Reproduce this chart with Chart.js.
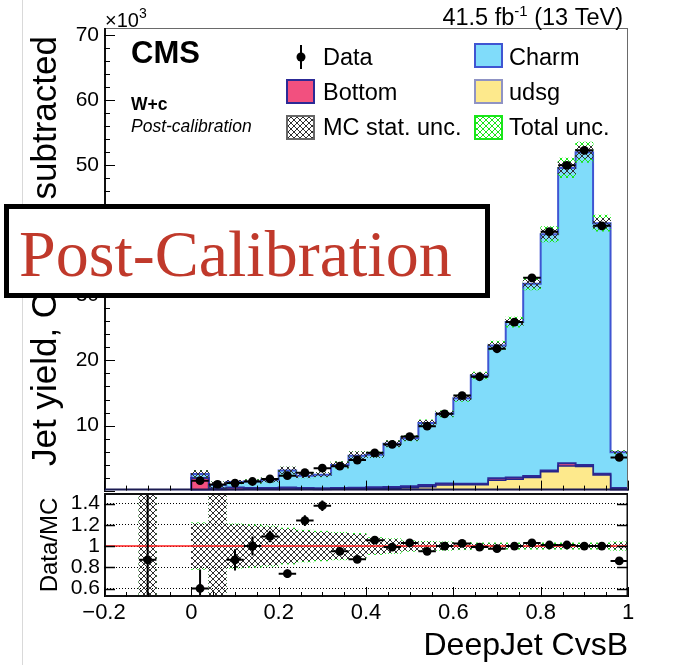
<!DOCTYPE html>
<html>
<head>
<meta charset="utf-8">
<title>W+c DeepJet CvsB, post-calibration</title>
<script src="https://cdn.jsdelivr.net/npm/chart.js@4.4.1/dist/chart.umd.min.js"></script>
<style>
  html, body { margin: 0; padding: 0; background: #fff; }
  #wrap { position: relative; width: 684px; height: 665px; overflow: hidden; background: #fff; }
  #edge { position: absolute; left: 22px; top: 0; width: 1px; height: 665px; background: #d9d9d9; }
  #cTop { position: absolute; left: 0; top: 0; }
  #cRatio { position: absolute; left: 0; top: 480px; }
</style>
</head>
<body>
<div id="wrap">
  <div id="edge"></div>
  <canvas id="cTop" width="684" height="495"></canvas>
  <canvas id="cRatio" width="684" height="185"></canvas>
</div>
<script>
// ---- binning (DeepJet CvsB) ----
const binEdges = [0.00, 0.04, 0.08, 0.12, 0.16, 0.20, 0.24, 0.28, 0.32, 0.36, 0.40, 0.44, 0.48,
                  0.52, 0.56, 0.60, 0.64, 0.68, 0.72, 0.76, 0.80, 0.84, 0.88, 0.92, 0.96, 1.00];
const binCenters = [0.02, 0.06, 0.10, 0.14, 0.18, 0.22, 0.26, 0.30, 0.34, 0.38, 0.42, 0.46, 0.50,
                    0.54, 0.58, 0.62, 0.66, 0.70, 0.74, 0.78, 0.82, 0.86, 0.90, 0.94, 0.98];
const binHalfWidth = 0.02;

// ---- yields, in units of 10^3 jets ----
const dataYield = [1.53, 0.95, 1.15, 1.40, 1.80, 2.30, 2.75, 3.45, 3.75, 4.70, 5.80, 7.10, 8.30,
                   9.90, 11.8, 14.6, 17.5, 21.8, 25.9, 32.7, 39.8, 50.0, 52.3, 40.7, 5.10];
const dataErr   = [0.45, 0.25, 0.13, 0.13, 0.10, 0.12, 0.12, 0.12, 0.13, 0.14, 0.15, 0.17, 0.18,
                   0.20, 0.22, 0.25, 0.27, 0.30, 0.32, 0.35, 0.40, 0.45, 0.47, 0.42, 0.18];
const charm     = [0.60, 0.47, 0.85, 1.00, 1.25, 2.63, 1.90, 2.10, 3.55, 4.92, 5.00, 6.65, 7.40,
                   9.55, 10.7, 13.15, 16.65, 20.4, 23.9, 29.55, 36.3, 45.4, 48.05, 38.5, 5.50];
const bottom    = [1.90, 0.30, 0.35, 0.25, 0.22, 0.22, 0.20, 0.20, 0.20, 0.20, 0.20, 0.20, 0.20,
                   0.25, 0.25, 0.15, 0.15, 0.30, 0.25, 0.25, 0.20, 0.40, 0.25, 0.20, 0.30];
const udsg      = [0.05, 0.08, 0.12, 0.15, 0.18, 0.25, 0.20, 0.15, 0.20, 0.25, 0.30, 0.35, 0.45,
                   0.60, 0.85, 0.90, 0.90, 1.60, 1.75, 2.00, 2.90, 3.80, 3.70, 2.40, 0.10];
// relative uncertainties on the simulation
const totUnc  = [0.22, 0.60, 0.21, 0.20, 0.19, 0.17, 0.15, 0.14, 0.13, 0.12, 0.08, 0.07, 0.05,
                 0.045, 0.04, 0.035, 0.03, 0.03, 0.03, 0.03, 0.03, 0.03, 0.03, 0.03, 0.04];
const statUnc = [0.21, 0.60, 0.20, 0.19, 0.18, 0.16, 0.14, 0.13, 0.12, 0.11, 0.072, 0.062, 0.042,
                 0.037, 0.032, 0.027, 0.02, 0.02, 0.018, 0.018, 0.018, 0.018, 0.018, 0.018, 0.028];

// ---- Data/MC ratio (first entry: underflow bin at -0.1) ----
const ratioX    = [-0.10, 0.02, 0.06, 0.10, 0.14, 0.18, 0.22, 0.26, 0.30, 0.34, 0.38, 0.42, 0.46,
                   0.50, 0.54, 0.58, 0.62, 0.66, 0.70, 0.74, 0.78, 0.82, 0.86, 0.90, 0.94, 0.98];
const ratioVal  = [0.87, 0.60, null, 0.87, 1.00, 1.09, 0.74, 1.24, 1.38, 0.95, 0.875, 1.055, 0.99,
                   1.03, 0.95, 1.00, 1.025, 0.99, 0.975, 1.00, 1.03, 1.01, 1.01, 1.00, 1.00, 0.86];
const ratioErr  = [0.80, 0.18, null, 0.10, 0.09, 0.055, 0.04, 0.05, 0.05, 0.035, 0.03, 0.03, 0.025,
                   0.022, 0.02, 0.02, 0.018, 0.016, 0.015, 0.014, 0.013, 0.012, 0.01, 0.01, 0.01, 0.03];
const ratioTot  = [0.60, ...totUnc];
const ratioStat = [0.60, ...statUnc];

// ---- axis ticks ----
const yieldTicks = [10, 20, 30, 40, 50, 60, 70];
const ratioTicks = [0.6, 0.8, 1, 1.2, 1.4];
const xTicks = [-0.2, 0, 0.2, 0.4, 0.6, 0.8, 1.0];

const SANS = "'Liberation Sans', Arial, Helvetica, sans-serif";
const SERIF = "'Liberation Serif', 'Times New Roman', serif";
const COL = {
  charm: '#80dcfa', charmLine: '#3f55d2',
  bottom: '#f2507f', bottomLine: '#2c2a96',
  udsg: '#fde98c', udsgLine: '#24248a',
  stat: '#303030', total: '#19e619'
};

const mcTotal = binCenters.map((_, i) => charm[i] + bottom[i] + udsg[i]);
const cumUdsg = udsg.slice();
const cumBottom = udsg.map((v, i) => v + bottom[i]);

function stepPoints(values) {
  const pts = [{ x: binEdges[0], y: 0 }];
  values.forEach((v, i) => pts.push({ x: binEdges[i], y: v }));
  pts.push({ x: binEdges[binEdges.length - 1], y: 0 });
  return pts;
}

function hatch(ctx, color) {
  const c = document.createElement('canvas');
  c.width = 6; c.height = 6;
  const g = c.getContext('2d');
  g.fillStyle = color;
  for (let i = 0; i < 6; i++) { g.fillRect(i, i, 1, 1); g.fillRect(5 - i, i, 1, 1); }
  return ctx.createPattern(c, 'repeat');
}

function fmt(v) {
  const s = String(+Number(v).toFixed(2));
  return v < 0 ? '\u2212' + s.slice(1) : s;
}

// fixed axis box, no extra label overhang padding
function fixWidth(w) {
  return s => { s.width = w; s.paddingTop = 0; s.paddingBottom = 0; };
}

// error bars for the data points (dataset 0), through the chart scales
const errorBars = {
  id: 'errorBars',
  afterDatasetsDraw(chart) {
    const { ctx, chartArea: a, scales: { x, y } } = chart;
    const ds = chart.data.datasets[0];
    ctx.save();
    ctx.beginPath(); ctx.rect(a.left, a.top, a.right - a.left, a.bottom - a.top); ctx.clip();
    ctx.strokeStyle = '#000'; ctx.lineWidth = 2;
    ds.data.forEach(p => {
      const px = x.getPixelForValue(p.x), py = y.getPixelForValue(p.y);
      ctx.beginPath();
      ctx.moveTo(x.getPixelForValue(p.x - binHalfWidth), py);
      ctx.lineTo(x.getPixelForValue(p.x + binHalfWidth), py);
      ctx.moveTo(px, y.getPixelForValue(p.y - p.e));
      ctx.lineTo(px, y.getPixelForValue(p.y + p.e));
      ctx.stroke();
    });
    ctx.restore();
  }
};

function line(ctx, x1, y1, x2, y2) { ctx.beginPath(); ctx.moveTo(x1, y1); ctx.lineTo(x2, y2); ctx.stroke(); }

function bottomTicks(ctx, a, x) {
  ctx.strokeStyle = '#000'; ctx.lineWidth = 1;
  for (let k = 0; k <= 24; k++) {
    const v = -0.2 + k * 0.05;
    const px = Math.round(x.getPixelForValue(v)) + 0.5;
    line(ctx, px, a.bottom, px, a.bottom - (k % 4 === 0 ? 10 : 5));
  }
}

function textRun(ctx, parts, x, y, align) {
  let w = 0;
  parts.forEach(p => { ctx.font = p.font; p.w = ctx.measureText(p.t).width; w += p.w; });
  let cx = align === 'right' ? x - w : x;
  ctx.textAlign = 'left'; ctx.textBaseline = 'alphabetic';
  parts.forEach(p => { ctx.font = p.font; ctx.fillText(p.t, cx, y + (p.dy || 0)); cx += p.w; });
}

// ---------------- upper panel ----------------
const ctxTop = document.getElementById('cTop').getContext('2d');
const grayTop = hatch(ctxTop, COL.stat), greenTop = hatch(ctxTop, COL.total);

const topDecor = {
  id: 'topDecor',
  afterDraw(chart) {
    const { ctx, chartArea: a, scales: { x, y } } = chart;
    ctx.save();
    // frame
    ctx.strokeStyle = '#6a6a6a'; ctx.lineWidth = 1;
    line(ctx, a.left, a.top + 0.5, a.right, a.top + 0.5);
    line(ctx, a.right - 0.5, a.top, a.right - 0.5, a.bottom);
    ctx.strokeStyle = '#111'; ctx.lineWidth = 2;
    line(ctx, a.left + 1, a.top, a.left + 1, a.bottom);
    ctx.strokeStyle = '#1b1b52';
    line(ctx, a.left, a.bottom - 1, a.right, a.bottom - 1);
    // inward ticks
    ctx.strokeStyle = '#000'; ctx.lineWidth = 1;
    for (let v = 0; v <= 70; v += 2) {
      const py = Math.round(y.getPixelForValue(v)) + 0.5;
      line(ctx, a.left, py, a.left + (v % 10 === 0 ? 11 : 6), py);
    }
    bottomTicks(ctx, a, x);

    ctx.fillStyle = '#000';
    // exponent and luminosity
    textRun(ctx, [{ t: '\u00d710', font: `20px ${SANS}` }, { t: '3', font: `14px ${SANS}`, dy: -9 }], 105, 27, 'left');
    textRun(ctx, [{ t: '41.5 fb', font: `23.5px ${SANS}` }, { t: '-1', font: `15px ${SANS}`, dy: -9 },
                  { t: ' (13 TeV)', font: `23.5px ${SANS}` }], 623, 25, 'right');
    textRun(ctx, [{ t: 'CMS', font: `bold 31px ${SANS}` }], 131, 63, 'left');
    textRun(ctx, [{ t: 'W+c', font: `bold 17.5px ${SANS}` }], 131, 110, 'left');
    textRun(ctx, [{ t: 'Post-calibration', font: `italic 17.5px ${SANS}` }], 131, 132, 'left');

    // legend
    const lf = `23.5px ${SANS}`;
    ctx.lineWidth = 2;
    ctx.strokeStyle = '#000';
    line(ctx, 301, 45, 301, 69);
    ctx.beginPath(); ctx.arc(301, 57, 4.5, 0, Math.PI * 2); ctx.fill();
    const box = (bx, by, fill, stroke) => {
      ctx.fillStyle = fill; ctx.fillRect(bx, by, 29, 25);
      ctx.strokeStyle = stroke; ctx.lineWidth = 2; ctx.strokeRect(bx + 1, by + 1, 27, 23);
    };
    box(474, 43, COL.charm, COL.charmLine);
    box(286, 79, COL.bottom, COL.bottomLine);
    box(474, 79, COL.udsg, '#8f93c4');
    box(286, 115, grayTop, '#666');
    box(474, 115, greenTop, COL.total);
    ctx.fillStyle = '#000';
    textRun(ctx, [{ t: 'Data', font: lf }], 323, 65, 'left');
    textRun(ctx, [{ t: 'Charm', font: lf }], 509, 65, 'left');
    textRun(ctx, [{ t: 'Bottom', font: lf }], 323, 100, 'left');
    textRun(ctx, [{ t: 'udsg', font: lf }], 509, 100, 'left');
    textRun(ctx, [{ t: 'MC stat. unc.', font: lf }], 323, 135, 'left');
    textRun(ctx, [{ t: 'Total unc.', font: lf }], 509, 135, 'left');

    // y-axis title
    ctx.save();
    ctx.translate(56, 466); ctx.rotate(-Math.PI / 2);
    ctx.font = `35px ${SANS}`; ctx.textAlign = 'left'; ctx.textBaseline = 'alphabetic';
    ctx.fillText('Jet yield, OS-SS subtracted', 0, 0);
    ctx.restore();

    // stage banner
    ctx.fillStyle = '#fff'; ctx.fillRect(6, 206, 482, 90);
    ctx.strokeStyle = '#000'; ctx.lineWidth = 5; ctx.strokeRect(6.5, 206.5, 481, 89);
    ctx.fillStyle = '#c0392b'; ctx.font = `66px ${SERIF}`;
    ctx.textAlign = 'left'; ctx.textBaseline = 'alphabetic';
    ctx.fillText('Post-Calibration', 19, 276);
    ctx.restore();
  }
};

const barCommon = { type: 'bar', borderWidth: 0, grouped: false, barPercentage: 1, categoryPercentage: 1 };
const stackCommon = { type: 'line', stepped: true, fill: 'origin', pointRadius: 0, borderWidth: 2 };

new Chart(ctxTop, {
  type: 'scatter',
  data: {
    datasets: [
      { type: 'scatter', label: 'Data',
        data: binCenters.map((x, i) => ({ x, y: dataYield[i], e: dataErr[i] })),
        backgroundColor: '#000', borderColor: '#000', pointRadius: 4.4, borderWidth: 0 },
      { ...barCommon, label: 'MC stat. unc.', backgroundColor: grayTop,
        data: binCenters.map((x, i) => ({ x, y: [mcTotal[i] * (1 - statUnc[i]), mcTotal[i] * (1 + statUnc[i])] })) },
      { ...barCommon, label: 'Total unc.', backgroundColor: greenTop,
        data: binCenters.map((x, i) => ({ x, y: [mcTotal[i] * (1 - totUnc[i]), mcTotal[i] * (1 + totUnc[i])] })) },
      { ...stackCommon, label: 'udsg', data: stepPoints(cumUdsg), backgroundColor: COL.udsg,
        borderColor: COL.udsgLine, borderWidth: 1.5 },
      { ...stackCommon, label: 'Bottom', data: stepPoints(cumBottom), backgroundColor: COL.bottom,
        borderColor: COL.bottomLine },
      { ...stackCommon, label: 'Charm', data: stepPoints(mcTotal), backgroundColor: COL.charm,
        borderColor: COL.charmLine }
    ]
  },
  options: {
    responsive: false, animation: false, events: [], devicePixelRatio: 1,
    layout: { padding: { left: 0, right: 56, top: 28, bottom: 3 } },
    plugins: { legend: { display: false }, tooltip: { enabled: false } },
    scales: {
      x: { type: 'linear', min: -0.2, max: 1.0, display: false, offset: false, grid: { offset: false } },
      y: {
        type: 'linear', min: 0, max: 71.1,
        afterFit: fixWidth(104),
        afterBuildTicks: s => { s.ticks = yieldTicks.map(v => ({ value: v })); },
        ticks: { autoSkip: false, padding: 5, color: '#000', font: { family: SANS, size: 21 }, callback: v => fmt(v) },
        grid: { display: false, drawTicks: false },
        border: { display: false }
      }
    }
  },
  plugins: [errorBars, topDecor]
});

// ---------------- ratio panel ----------------
const ctxRatio = document.getElementById('cRatio').getContext('2d');
const grayRatio = hatch(ctxRatio, COL.stat), greenRatio = hatch(ctxRatio, COL.total);

const ratioDecor = {
  id: 'ratioDecor',
  afterDraw(chart) {
    const { ctx, chartArea: a, scales: { x, y } } = chart;
    ctx.save();
    ctx.strokeStyle = '#111'; ctx.lineWidth = 2;
    line(ctx, a.left, a.top + 1, a.right, a.top + 1);
    line(ctx, a.left + 1, a.top, a.left + 1, a.bottom);
    line(ctx, a.left, a.bottom - 1, a.right, a.bottom - 1);
    ctx.lineWidth = 1.5;
    line(ctx, a.right - 0.75, a.top, a.right - 0.75, a.bottom);
    ctx.strokeStyle = '#000'; ctx.lineWidth = 1.5;
    ratioTicks.forEach(v => {
      const py = Math.round(y.getPixelForValue(v)) + 0.5;
      line(ctx, a.left, py, a.left + 11, py);
      line(ctx, a.right, py, a.right - 11, py);
    });
    bottomTicks(ctx, a, x);

    ctx.fillStyle = '#000';
    ctx.save();
    ctx.translate(57, 65); ctx.rotate(-Math.PI / 2);
    ctx.font = `24px ${SANS}`; ctx.textAlign = 'center'; ctx.textBaseline = 'alphabetic';
    ctx.fillText('Data/MC', 0, 0);
    ctx.restore();
    ctx.font = `32px ${SANS}`; ctx.textAlign = 'right'; ctx.textBaseline = 'alphabetic';
    ctx.fillText('DeepJet CvsB', 628, 175);
    ctx.restore();
  }
};

const ratioPoints = ratioX.map((x, i) => ({ x, y: ratioVal[i], e: ratioErr[i] })).filter(p => p.y !== null);

new Chart(ctxRatio, {
  type: 'scatter',
  data: {
    datasets: [
      { type: 'scatter', label: 'Data/MC', data: ratioPoints,
        backgroundColor: '#000', borderColor: '#000', pointRadius: 4.4, borderWidth: 0 },
      { type: 'line', label: 'unity', data: [{ x: xTicks[0], y: 1 }, { x: xTicks[xTicks.length - 1], y: 1 }],
        borderColor: '#ff1c1c', borderWidth: 1.5, pointRadius: 0, fill: false },
      { ...barCommon, label: 'MC stat. unc.', backgroundColor: grayRatio,
        data: ratioX.map((x, i) => ({ x, y: [1 - ratioStat[i], 1 + ratioStat[i]] })) },
      { ...barCommon, label: 'Total unc.', backgroundColor: greenRatio,
        data: ratioX.map((x, i) => ({ x, y: [1 - ratioTot[i], 1 + ratioTot[i]] })) }
    ]
  },
  options: {
    responsive: false, animation: false, events: [], devicePixelRatio: 1,
    layout: { padding: { left: 0, right: 56, top: 13, bottom: 0 } },
    plugins: { legend: { display: false }, tooltip: { enabled: false } },
    scales: {
      x: {
        type: 'linear', min: -0.2, max: 1.0, offset: false,
        afterFit: s => { s.height = 68; s.paddingLeft = 0; s.paddingRight = 0; },
        afterBuildTicks: s => { s.ticks = xTicks.map(v => ({ value: v })); },
        ticks: { autoSkip: false, maxRotation: 0, padding: 3, color: '#000', font: { family: SANS, size: 22 }, callback: v => fmt(v) },
        grid: { display: false, drawTicks: false, offset: false },
        border: { display: false }
      },
      y: {
        type: 'linear', min: 0.52, max: 1.5,
        afterFit: fixWidth(104),
        afterBuildTicks: s => { s.ticks = ratioTicks.map(v => ({ value: v })); },
        ticks: { autoSkip: false, padding: 4, color: '#000', font: { family: SANS, size: 21 }, callback: v => fmt(v) },
        grid: { display: true, drawTicks: false, color: '#000', lineWidth: 1 },
        border: { display: false, dash: [1, 2] }
      }
    }
  },
  plugins: [errorBars, ratioDecor]
});
</script>
</body>
</html>
